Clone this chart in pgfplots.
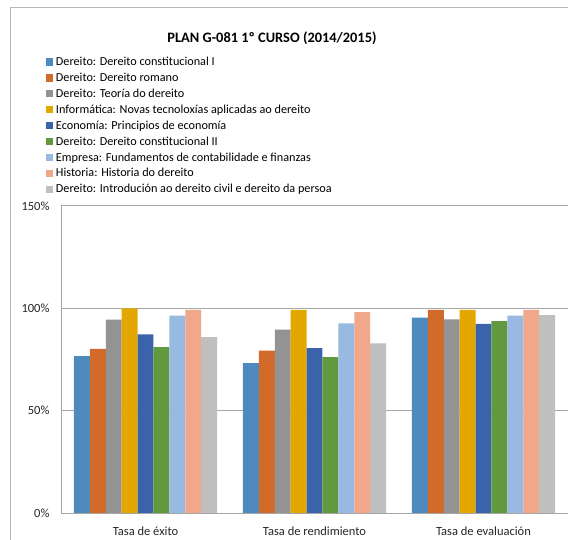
\documentclass[border=0pt]{standalone}
\usepackage{pgfplots}
\pgfplotsset{compat=1.18}
\usepackage{fontspec}
\setmainfont{Carlito}
\definecolor{c1}{HTML}{4F8ABF}
\definecolor{c2}{HTML}{D26B2A}
\definecolor{c3}{HTML}{939393}
\definecolor{c4}{HTML}{E2A800}
\definecolor{c5}{HTML}{3A63AC}
\definecolor{c6}{HTML}{62993F}
\definecolor{c7}{HTML}{98B9E0}
\definecolor{c8}{HTML}{F0A78A}
\definecolor{c9}{HTML}{BFBFBF}
\definecolor{gridc}{HTML}{A6A6A6}
\begin{document}
\begin{tikzpicture}
\path[use as bounding box] (0bp,0bp) rectangle (568bp,540bp);
\fill[white] (0bp,0bp) rectangle (568bp,540bp);
\draw[gridc!80, line width=1bp] (10bp,0bp) -- (10bp,532bp) -- (580bp,532bp);
\node[font=\fontsize{14.4bp}{17bp}\selectfont\bfseries] at (272bp,502bp) {PLAN G-081 1º CURSO (2014/2015)};
\begin{axis}[
  at={(61bp,27bp)}, anchor=south west,
  scale only axis, width=507bp, height=307bp,
  xmin=-0.5, xmax=2.5, ymin=0, ymax=150,
  ybar=0pt, bar width=15.9bp,
  xtick={0,1,2},
  xticklabels={Tasa de éxito, Tasa de rendimiento, Tasa de evaluación},
  ytick={0,50,100,150},
  yticklabel={\pgfmathprintnumber{\tick}\%},
  /pgf/number format/assume math mode=true,
  tick label style={font=\fontsize{12.5bp}{14bp}\selectfont, text=black!85},
  yticklabel style={xshift=-8bp},
  xticklabel style={yshift=-10bp},
  major tick length=0pt,
  axis x line=bottom, axis y line=left,
  axis line style={-, gridc, line width=1bp},
  ymajorgrids, grid style={gridc, line width=1bp},
  legend style={draw=none, fill=none, at={(-0.0296,1.484)}, anchor=north west,
    font=\fontsize{12.2bp}{14bp}\selectfont, row sep=5.9bp, inner sep=0pt,
    nodes={inner sep=0pt, text height=8bp, text depth=2bp}, column sep=2.5bp},
  legend cell align=left,
  legend image code/.code={\fill[#1, draw=none] (0bp,-3bp) rectangle (7.3bp,4.3bp);},
  every axis plot/.append style={draw=none},
]
\addplot[fill=c1] coordinates {(0,76.7) (1,73.2) (2,95.4)};
\addplot[fill=c2] coordinates {(0,80.2) (1,79.3) (2,99.2)};
\addplot[fill=c3] coordinates {(0,94.5) (1,89.6) (2,94.6)};
\addplot[fill=c4] coordinates {(0,100) (1,99.2) (2,99.2)};
\addplot[fill=c5] coordinates {(0,87.3) (1,80.5) (2,92.4)};
\addplot[fill=c6] coordinates {(0,81.0) (1,76.1) (2,93.8)};
\addplot[fill=c7] coordinates {(0,96.4) (1,92.7) (2,96.4)};
\addplot[fill=c8] coordinates {(0,99.2) (1,98.2) (2,99.2)};
\addplot[fill=c9] coordinates {(0,85.9) (1,82.9) (2,96.7)};
\legend{Dereito: Dereito constitucional I,
Dereito: Dereito romano,
Dereito: Teoría do dereito,
Informática: Novas tecnoloxías aplicadas ao dereito,
Economía: Principios de economía,
Dereito: Dereito constitucional II,
Empresa: Fundamentos de contabilidade e finanzas,
Historia: Historia do dereito,
Dereito: Introdución ao dereito civil e dereito da persoa}
\end{axis}
\end{tikzpicture}
\end{document}
